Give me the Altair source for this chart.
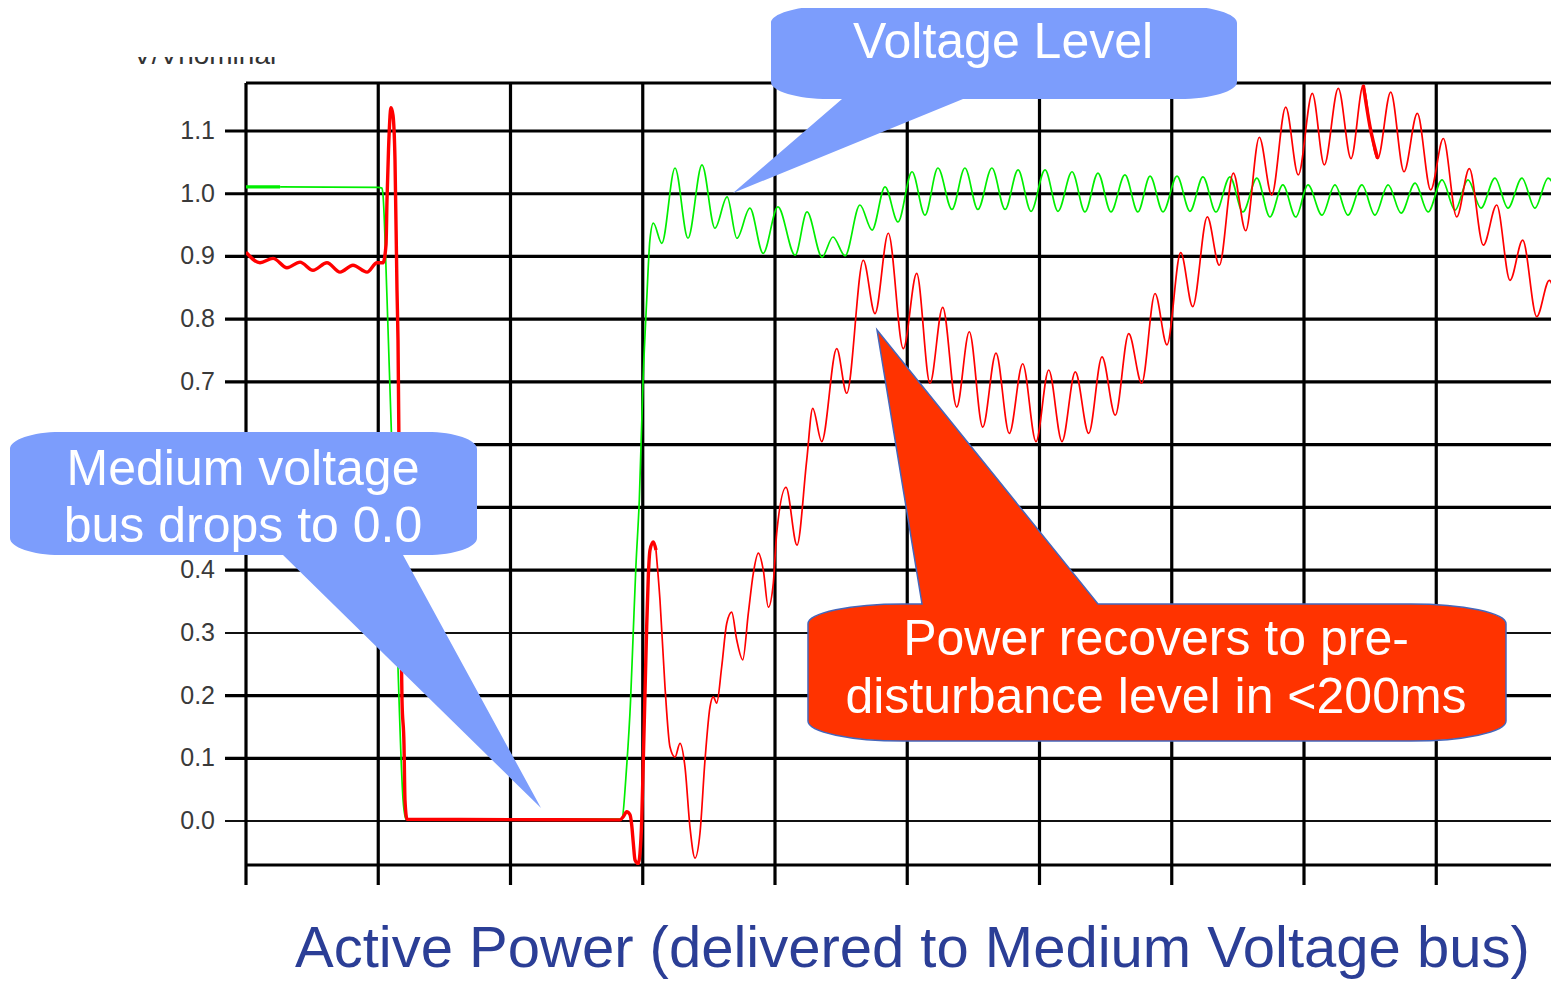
import altair as alt
import pandas as pd

# ---------------- data (time in ms, value in p.u.) ----------------
GREEN_T = [0.0, 12.9, 49.9, 51.4, 51.8, 53.3, 55.2, 57.5, 59.4, 60.5,
           142.0, 143.9, 145.4, 146.4, 147.4, 148.7, 150.1, 151.5, 152.7, 154.0,
           157.2, 162.2, 167.1, 172.4, 177.3, 181.9, 185.6, 190.5, 195.5, 201.1,
           207.6, 212.1, 217.8, 221.9, 226.5, 232.1, 236.7, 241.6, 246.5, 251.8,
           256.7, 261.6, 266.9, 271.8, 276.7, 282.0, 287.0, 291.9, 296.8, 302.1,
           307.0, 312.3, 317.2, 322.1, 327.0, 332.3, 337.2, 341.8, 346.7, 352.0,
           356.9, 361.8, 366.7, 372.0, 376.9, 382.2, 387.1, 392.0, 396.9, 401.5,
           406.8, 411.7, 416.6, 421.9, 426.8, 431.8, 436.7, 442.0, 446.9, 452.2,
           457.1, 462.0, 466.9, 472.2, 477.1, 482.4, 487.3, 492.3, 496.4]
GREEN_V = [1.011, 1.011, 1.010, 1.009, 0.998, 0.835, 0.590, 0.240, 0.033, 0.003,
           0.003, 0.086, 0.193, 0.300, 0.405, 0.512, 0.700, 0.831, 0.926, 0.953,
           0.921, 1.041, 0.929, 1.046, 0.945, 0.995, 0.929, 0.977, 0.905, 0.979,
           0.902, 0.971, 0.899, 0.931, 0.901, 0.982, 0.942, 1.011, 0.955, 1.035,
           0.966, 1.041, 0.975, 1.041, 0.975, 1.041, 0.975, 1.038, 0.972, 1.038,
           0.972, 1.035, 0.971, 1.033, 0.971, 1.030, 0.971, 1.028, 0.971, 1.028,
           0.972, 1.027, 0.971, 1.027, 0.971, 1.025, 0.963, 1.014, 0.963, 1.014,
           0.966, 1.014, 0.966, 1.014, 0.966, 1.014, 0.969, 1.017, 0.971, 1.022,
           0.974, 1.022, 0.977, 1.025, 0.977, 1.025, 0.977, 1.025, 0.990]

RED_T = [0.0, 5.29, 10.21, 15.50, 20.42, 25.33, 30.62, 35.54, 40.45, 45.75,
         49.53, 51.80, 52.93, 53.31, 53.88, 54.82, 55.58, 56.33, 57.09, 57.47,
         58.22, 58.98, 59.74, 60.11, 60.87, 141.40, 142.65, 143.93, 145.18, 145.82,
         146.43, 147.07, 148.32, 148.96, 149.60, 150.21, 150.85, 151.49, 152.10, 152.74,
         153.99, 155.01, 156.52, 158.41, 160.30, 162.19, 164.08, 165.97, 167.86, 169.75,
         171.64, 173.53, 175.43, 176.67, 177.96, 179.85, 181.74, 183.63, 185.52, 187.79,
         189.91, 191.80, 193.69, 195.58, 197.47, 199.36, 200.64, 204.16, 208.32, 211.99,
         214.25, 217.66, 223.33, 227.11, 233.38, 237.81, 242.84, 248.51, 253.57, 258.60,
         263.40, 268.70, 273.46, 278.53, 283.55, 288.58, 293.65, 298.68, 303.48, 308.51,
         313.53, 318.60, 323.63, 328.66, 333.73, 338.64, 343.67, 348.20, 353.38, 357.92,
         363.44, 367.98, 373.27, 377.96, 383.10, 387.79, 393.08, 397.84, 403.14, 407.67,
         412.97, 417.77, 422.42, 424.95, 427.86, 432.78, 437.81, 442.84, 447.90, 452.67,
         457.73, 462.50, 467.79, 472.86, 477.88, 482.69, 487.98, 492.74, 496.41]
RED_V = [0.907, 0.890, 0.897, 0.882, 0.891, 0.878, 0.890, 0.875, 0.886, 0.875,
         0.890, 0.890, 0.918, 0.990, 1.070, 1.137, 1.125, 1.054, 0.846, 0.767,
         0.416, 0.193, 0.121, 0.033, 0.003, 0.002, 0.007, 0.015, 0.010, -0.006,
         -0.035, -0.062, -0.068, -0.051, 0.000, 0.097, 0.204, 0.310, 0.390, 0.432,
         0.445, 0.432, 0.352, 0.214, 0.118, 0.102, 0.124, 0.086, -0.010, -0.059,
         -0.019, 0.097, 0.182, 0.198, 0.188, 0.246, 0.315, 0.333, 0.289, 0.257,
         0.331, 0.395, 0.427, 0.400, 0.341, 0.379, 0.459, 0.532, 0.440, 0.575,
         0.658, 0.605, 0.753, 0.682, 0.894, 0.809, 0.937, 0.753, 0.873, 0.698,
         0.819, 0.660, 0.780, 0.628, 0.746, 0.618, 0.729, 0.605, 0.719, 0.605,
         0.716, 0.618, 0.740, 0.647, 0.777, 0.698, 0.841, 0.759, 0.906, 0.820,
         0.963, 0.886, 1.033, 0.941, 1.090, 0.998, 1.138, 1.030, 1.160, 1.046,
         1.168, 1.056, 1.173, 1.107, 1.056, 1.162, 1.035, 1.128, 1.006, 1.088,
         0.963, 1.040, 0.918, 0.982, 0.862, 0.926, 0.804, 0.862, 0.800]

Y_TICKS = [0.0, 0.1, 0.2, 0.3, 0.4, 0.5, 0.6, 0.7, 0.8, 0.9, 1.0, 1.1]
HIDDEN_LABELS = [0.5, 0.6]      # covered by the callout in the reference
THIN_LEVELS = [0.0, 0.3]
X_GRID = [0, 50, 100, 150, 200, 250, 300, 350, 400, 450]

PX_PER_MS = 2.645
Y_MIN, Y_MAX = -0.07, 1.1765

# ---------------- layout ----------------
W, H = 1305, 782
X_MAX = W / PX_PER_MS
FONT = "Liberation Sans"
BLUE = "#7c9dfc"
RED_BOX = "#ff3300"

xs = alt.Scale(domain=[0, X_MAX])
ys = alt.Scale(domain=[Y_MIN, Y_MAX])

green = pd.DataFrame({"t": GREEN_T, "v": GREEN_V})
red = pd.DataFrame({"t": RED_T, "v": RED_V})
ticks = pd.DataFrame({"v": [v for v in Y_TICKS if v not in HIDDEN_LABELS]})
thick_lv = pd.DataFrame({"v": [v for v in Y_TICKS if v not in THIN_LEVELS]})
thin_lv = pd.DataFrame({"v": THIN_LEVELS})
xgrid = pd.DataFrame({"t": X_GRID})
one = pd.DataFrame({"k": [0]})

hthick = alt.Chart(thick_lv).mark_rule(color="black", strokeWidth=3.2).encode(
    y=alt.Y("v:Q", scale=ys, axis=None), x=alt.value(-21), x2=alt.value(W))
hthin = alt.Chart(thin_lv).mark_rule(color="#111111", strokeWidth=2).encode(
    y=alt.Y("v:Q", scale=ys, axis=None), x=alt.value(-21), x2=alt.value(W))
ylabels = alt.Chart(ticks).mark_text(font=FONT, fontSize=25, color="#3a3a3a",
                                     align="right", baseline="middle").encode(
    y=alt.Y("v:Q", scale=ys, axis=None), x=alt.value(-31),
    text=alt.Text("v:Q", format=".1f"))
ftop = alt.Chart(one).mark_rule(color="black", strokeWidth=3.2).encode(
    y=alt.value(0), x=alt.value(0), x2=alt.value(W))
fbot = alt.Chart(one).mark_rule(color="black", strokeWidth=3.2).encode(
    y=alt.value(H), x=alt.value(0), x2=alt.value(W))
vgrid = alt.Chart(xgrid).mark_rule(color="black", strokeWidth=3.2).encode(
    x=alt.X("t:Q", scale=xs, axis=None), y=alt.value(0), y2=alt.value(H + 20))


def line(df, color, width, filt):
    return alt.Chart(df).transform_filter(filt).mark_line(
        color=color, strokeWidth=width, interpolate="monotone", clip=True,
        strokeJoin="round").encode(
        x=alt.X("t:Q", scale=xs, axis=None), y=alt.Y("v:Q", scale=ys, axis=None))


g_thin = line(green, "#00ee00", 1.7, "datum.t >= 12.9")
g_thick = line(green, "#00ee00", 3.2, "datum.t <= 12.9")
r_thin = line(red, "#ff0000", 1.7, "datum.t >= 155.01")
r_thick = line(red, "#ff0000", 3.4, "datum.t <= 155.01")
r_thick2 = line(red, "#ff0000", 3.4, "datum.t >= 422.42 && datum.t <= 427.86")

# callout shapes (pixel paths relative to anchor, scale 1 with size=4)
P1 = ("M58,0 H408 A58,17 0 0 1 466,17 V76 A58,17 0 0 1 408,93 H192 L-38,187 L71,93 H58 "
      "A58,17 0 0 1 0,76 V17 A58,17 0 0 1 58,0 Z")
P2 = ("M50,0 H417 A50,17 0 0 1 467,17 V106 A50,17 0 0 1 417,123 H393 L531,376 L273,123 H50 "
      "A50,17 0 0 1 0,106 V17 A50,17 0 0 1 50,0 Z")
P3 = ("M95,0 H114 L69,-274 L290,0 H603 A95,20 0 0 1 698,20 V117 A95,20 0 0 1 603,137 H95 "
      "A95,20 0 0 1 0,117 V20 A95,20 0 0 1 95,0 Z")


def callout(path, ax, ay, fill, stroke=None):
    kw = dict(shape=path, size=4, filled=True, fill=fill, opacity=1, fillOpacity=1)
    if stroke:
        kw.update(stroke=stroke, strokeWidth=1.5, strokeOpacity=1)
    else:
        kw.update(strokeWidth=0)
    return alt.Chart(one).mark_point(**kw).encode(x=alt.value(ax), y=alt.value(ay))


c1 = callout(P1, 525, -77, BLUE)
c2 = callout(P2, -236, 349, BLUE)
c3 = callout(P3, 562, 521, RED_BOX, "#4466bb")


def txt(s, x, y, size, color, align="center"):
    return alt.Chart(one).mark_text(text=s, font=FONT, fontSize=size, color=color,
                                    align=align, baseline="alphabetic").encode(
        x=alt.value(x), y=alt.value(y))


texts = [
    txt("Voltage Level", 757, -25, 50, "white"),
    txt("Medium voltage", -3, 402, 50, "white"),
    txt("bus drops to 0.0", -3, 459, 50, "white"),
    txt("Power recovers to pre-", 910, 572, 50, "white"),
    txt("disturbance level in <200ms", 910, 630, 50, "white"),
    txt("Active Power (delivered to Medium Voltage bus)", 49, 884, 58, "#2b3e96", "left"),
    txt("V/Vnominal", -113, -19, 28, "#333333", "left"),
]
cover = alt.Chart(one).mark_rect(color="white").encode(
    x=alt.value(-126), x2=alt.value(44), y=alt.value(-80), y2=alt.value(-26))

chart = alt.layer(
    hthick, hthin, ftop, fbot, vgrid, ylabels,
    g_thin, g_thick, r_thin, r_thick, r_thick2,
    c1, c2, c3, *texts, cover
).properties(
    width=W, height=H,
    padding={"left": 238, "top": 75, "right": 0, "bottom": 116},
    autosize=alt.AutoSizeParams(type="none"),
    background="white",
).configure_view(strokeWidth=0)

chart.save("out.html", embed_options={"renderer": "svg", "actions": False})
